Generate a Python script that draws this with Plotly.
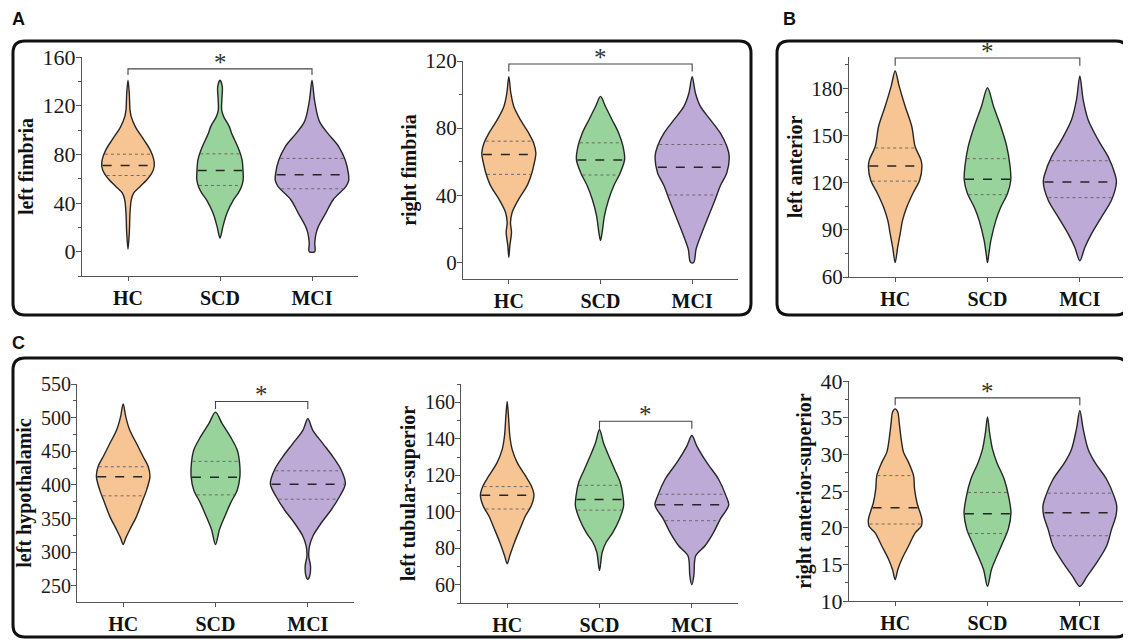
import numpy as np
import plotly.graph_objects as go

groups = ["HC", "SCD", "MCI"]
fills = ["#F7C494", "#98D39B", "#BDAAD6"]

# ---------------- data ----------------
# violin outlines: value levels (top -> bottom) and half-widths (in category units)
left_fimbria_levels = {
    "HC": [141, 130, 116.5, 111, 102.8, 91.9, 83.7, 75.5, 70, 64.6, 59.1, 53.6, 48.1, 42.7, 31.7, 15.3, 2],
    "SCD": [141, 135.7, 124.7, 116.5, 111, 103, 97.4, 84, 75.5, 67, 59, 53.6, 48.1, 42.7, 31.7, 20.8, 11.2],
    "MCI": [141, 124.7, 111, 105.6, 97.4, 86.4, 75.5, 64.6, 59, 53.6, 42.7, 31.7, 20.8, 15.3, 7.1, 0],
}
left_fimbria_widths = {
    "HC": [0, 0.014, 0.022, 0.035, 0.079, 0.173, 0.241, 0.281, 0.285, 0.259, 0.205, 0.133, 0.061, 0.036, 0.022, 0.014, 0],
    "SCD": [0, 0.025, 0.02, 0.018, 0.04, 0.1, 0.126, 0.205, 0.24, 0.25, 0.252, 0.234, 0.198, 0.148, 0.076, 0.032, 0],
    "MCI": [0, 0.027, 0.063, 0.09, 0.17, 0.29, 0.36, 0.395, 0.40, 0.37, 0.23, 0.15, 0.07, 0.045, 0.03, 0.03],
}
left_fimbria_quartiles = {"HC": (62.6, 70.8, 80.1), "SCD": (54.4, 66.7, 80.4), "MCI": (51.7, 63.2, 76.6)}

right_fimbria_levels = {
    "HC": [110.7, 100.8, 92.9, 85, 77.1, 71.2, 65.2, 57.3, 53.4, 45.5, 37.6, 29.7, 23.7, 17.8, 9.9, 3],
    "SCD": [98.9, 92.9, 85, 77.1, 69.2, 61.3, 53.4, 45.5, 37.6, 27.7, 17.8, 12.9],
    "MCI": [110.7, 100.8, 92.9, 85, 77.1, 69.2, 63.3, 53.4, 45.5, 37.6, 27.7, 17.8, 7.9, 0],
}
right_fimbria_widths = {
    "HC": [0, 0.022, 0.054, 0.126, 0.216, 0.27, 0.295, 0.27, 0.252, 0.198, 0.108, 0.036, 0.018, 0.029, 0.011, 0],
    "SCD": [0, 0.054, 0.126, 0.198, 0.245, 0.263, 0.216, 0.144, 0.09, 0.043, 0.018, 0],
    "MCI": [0, 0.036, 0.09, 0.198, 0.306, 0.378, 0.404, 0.378, 0.306, 0.252, 0.18, 0.108, 0.043, 0.018],
}
right_fimbria_quartiles = {"HC": (52.4, 64.3, 72.2), "SCD": (52, 61, 71.2), "MCI": (40.1, 56.7, 70.2)}

left_anterior_levels = {
    "HC": [191.1, 181.5, 168.7, 155.8, 143, 134.4, 130.2, 121.6, 113, 104.5, 96, 87.4, 78.8, 69.2],
    "SCD": [180.4, 168.7, 155.8, 143, 130.2, 121.6, 113, 104.5, 95.9, 83.1, 74.5, 69.2],
    "MCI": [187.9, 172.9, 160.1, 147.3, 136.6, 125.9, 120.5, 108.8, 98.1, 87.4, 78.8, 70.3],
}
left_anterior_widths = {
    "HC": [0, 0.043, 0.108, 0.18, 0.216, 0.28, 0.29, 0.265, 0.19, 0.126, 0.08, 0.054, 0.027, 0],
    "SCD": [0, 0.065, 0.144, 0.209, 0.245, 0.252, 0.216, 0.144, 0.09, 0.036, 0.014, 0],
    "MCI": [0, 0.036, 0.09, 0.198, 0.306, 0.378, 0.396, 0.342, 0.234, 0.126, 0.054, 0],
}
left_anterior_quartiles = {"HC": (121, 130.6, 142.1), "SCD": (112.4, 122.2, 135.3), "MCI": (110.5, 120.5, 134)}

left_hypothalamic_levels = {
    "HC": [520.5, 500.8, 481.2, 461.5, 441.8, 427.1, 412.3, 392.6, 372.9, 353.3, 333.6, 321.3, 311.5],
    "SCD": [508.2, 491, 471.3, 451.6, 432, 412.3, 392.6, 373, 353.3, 333.6, 311.5],
    "MCI": [498.4, 481.2, 461.5, 441.8, 422.1, 401.5, 382.8, 363.1, 343.4, 323.8, 309, 294.2, 279.5, 264.7, 259.8],
}
left_hypothalamic_widths = {
    "HC": [0, 0.029, 0.072, 0.145, 0.217, 0.272, 0.29, 0.254, 0.2, 0.145, 0.072, 0.029, 0],
    "SCD": [0, 0.072, 0.163, 0.236, 0.261, 0.264, 0.236, 0.163, 0.101, 0.043, 0],
    "MCI": [0, 0.054, 0.163, 0.272, 0.362, 0.406, 0.344, 0.254, 0.145, 0.054, 0.018, 0.01, 0.029, 0.02, 0],
}
left_hypothalamic_quartiles = {"HC": (383.8, 412.3, 427), "SCD": (385.2, 411.3, 435), "MCI": (378.8, 401, 421)}

left_tubular_levels = {
    "HC": [160.5, 152.4, 141.5, 134.2, 126.9, 119.6, 114.2, 109.1, 103.3, 97.8, 90.5, 83.3, 76, 71.5],
    "SCD": [145.1, 137.8, 130.5, 123.3, 116, 108.7, 103.3, 96, 88.7, 83.3, 77.8, 67.8],
    "MCI": [141.8, 136, 126.9, 117.8, 108.7, 103.6, 96, 88.7, 81.5, 76, 72.4, 65.1, 60],
}
left_tubular_widths = {
    "HC": [0, 0.014, 0.029, 0.054, 0.109, 0.199, 0.261, 0.29, 0.261, 0.199, 0.138, 0.08, 0.029, 0],
    "SCD": [0, 0.043, 0.101, 0.163, 0.225, 0.254, 0.261, 0.217, 0.145, 0.072, 0.029, 0],
    "MCI": [0, 0.054, 0.163, 0.29, 0.37, 0.399, 0.308, 0.236, 0.145, 0.043, 0.029, 0.022, 0],
}
left_tubular_quartiles = {"HC": (101.5, 109, 113.8), "SCD": (100.9, 106.7, 114.5), "MCI": (95.1, 103.8, 109.6)}

right_antsup_levels = {
    "HC": [36.2, 35.75, 34.4, 32.1, 30.3, 28.9, 27.1, 25.3, 23.4, 21.1, 20.2, 19.3, 17.5, 15.7, 14.3, 12.9],
    "SCD": [35.1, 33, 30.7, 28.9, 26.6, 24.3, 22, 19.8, 17.9, 16.1, 14.3, 12],
    "MCI": [36, 33.5, 30.7, 28.9, 26.6, 24.3, 23, 21.6, 19.8, 17.5, 15.2, 13.4, 12],
}
right_antsup_widths = {
    "HC": [0, 0.029, 0.043, 0.065, 0.09, 0.145, 0.199, 0.21, 0.236, 0.29, 0.283, 0.217, 0.145, 0.072, 0.029, 0],
    "SCD": [0, 0.022, 0.054, 0.101, 0.181, 0.228, 0.254, 0.225, 0.163, 0.101, 0.043, 0],
    "MCI": [0, 0.036, 0.09, 0.163, 0.29, 0.37, 0.399, 0.391, 0.344, 0.29, 0.181, 0.08, 0],
}
right_antsup_quartiles = {"HC": (20.5, 22.7, 27.1), "SCD": (19.2, 21.9, 24.8), "MCI": (18.9, 22.05, 24.7)}

# significance brackets: (group a, group b, bracket level, leg end level)
brackets = [
    ("HC", "MCI", 150.2, 145.2),
    ("HC", "MCI", 118.2, 113.7),
    ("HC", "MCI", 199.4, 194.5),
    ("SCD", "MCI", 524, 513),
    ("SCD", "MCI", 149.6, 145.5),
    ("HC", "MCI", 37.7, 36.7),
]

y_titles = ["left fimbria", "right fimbria", "left anterior",
            "left hypothalamic", "left tubular-superior", "right anterior-superior"]
y_ranges = [[-20, 160], [-10, 120], [60, 200], [226, 550], [50, 170], [10, 40]]
y_tick0 = [0, 0, 60, 250, 60, 10]
y_dtick = [40, 40, 30, 50, 20, 5]
profiles = [
    (left_fimbria_levels, left_fimbria_widths, left_fimbria_quartiles),
    (right_fimbria_levels, right_fimbria_widths, right_fimbria_quartiles),
    (left_anterior_levels, left_anterior_widths, left_anterior_quartiles),
    (left_hypothalamic_levels, left_hypothalamic_widths, left_hypothalamic_quartiles),
    (left_tubular_levels, left_tubular_widths, left_tubular_quartiles),
    (right_antsup_levels, right_antsup_widths, right_antsup_quartiles),
]

# ---------------- layout geometry (page pixels) ----------------
# the page body has an 8px margin, so the figure is drawn 8px in from the corner
OFF = 8
W, H = 1131 - OFF, 640 - OFF
dom_px = [(82, 358, 57, 276), (463, 738, 61, 279), (849, 1126, 57, 277),
          (77, 354, 384, 602), (461, 738, 384, 603), (849, 1126, 381, 601)]
tick_sizes = [22, 21, 21, 20, 20, 22]

def fx(px):
    return (px - OFF) / W

def fy(py):
    return 1 - (py - OFF) / H

SERIF = "Liberation Serif"
AXC = "#555555"

fig = go.Figure()
layout = dict(width=W, height=H, autosize=False, margin=dict(l=0, r=0, t=0, b=0, autoexpand=False),
              paper_bgcolor="white", plot_bgcolor="rgba(0,0,0,0)",
              showlegend=False, annotations=[], shapes=[])

for k in range(6):
    sfx = "" if k == 0 else str(k + 1)
    xa, ya = "x" + sfx, "y" + sfx
    levels, widths, quarts = profiles[k]
    for gi, g in enumerate(groups):
        lv = np.array(levels[g], dtype=float)
        wd = np.array(widths[g], dtype=float)
        xs = list(gi - wd) + list((gi + wd)[::-1])
        ys = list(lv) + list(lv[::-1])
        px_, py_ = [xs[0]], [ys[0]]
        for a, b in zip(xs[1:], ys[1:]):
            if abs(a - px_[-1]) > 1e-9 or abs(b - py_[-1]) > 1e-9:
                px_.append(a)
                py_.append(b)
        fig.add_trace(go.Scatter(x=px_, y=py_, xaxis=xa, yaxis=ya, mode="lines",
                                 fill="toself", fillcolor=fills[gi],
                                 line=dict(color="#262626", width=1.4, shape="spline", smoothing=0.9),
                                 hoverinfo="skip"))
        asc_l, asc_w = lv[::-1], wd[::-1]
        q1, med, q3 = quarts[g]
        for q, style in ((q1, "dot"), (q3, "dot"), (med, "dash")):
            hw = float(np.interp(q, asc_l, asc_w)) * 0.97
            if style == "dash":
                ln = dict(color="#262626", width=1.5, dash="dash")
            else:
                ln = dict(color="#6a6a6a", width=1, dash="dot")
            fig.add_trace(go.Scatter(x=[gi - hw, gi + hw], y=[q, q], xaxis=xa, yaxis=ya,
                                     mode="lines", line=ln, hoverinfo="skip"))
    ga, gb, top, leg = brackets[k]
    ia, ib = groups.index(ga), groups.index(gb)
    fig.add_trace(go.Scatter(x=[ia, ia, ib, ib], y=[leg, top, top, leg], xaxis=xa, yaxis=ya,
                             mode="lines", line=dict(color="#444444", width=1.1),
                             hoverinfo="skip", cliponaxis=False))
    layout["annotations"].append(dict(x=(ia + ib) / 2, y=top, xref=xa, yref=ya, text="*",
                                      showarrow=False, yanchor="bottom", yshift=-9,
                                      font=dict(family=SERIF, size=25, color="#333333")))
    x0, x1, y0, y1 = dom_px[k]
    layout["xaxis" + sfx] = dict(
        domain=[fx(x0), fx(x1)], range=[-0.5, 2.5], anchor=ya,
        tickvals=[0, 1, 2], ticktext=groups, showline=True, linecolor=AXC, linewidth=1.2,
        ticks="outside", ticklen=4, tickcolor=AXC, tickwidth=1.2,
        tickfont=dict(family=SERIF, size=20, color="#111", weight="bold"),
        showgrid=False, zeroline=False, fixedrange=True, automargin=False)
    layout["yaxis" + sfx] = dict(
        domain=[fy(y1), fy(y0)], range=y_ranges[k], anchor=xa,
        tick0=y_tick0[k], dtick=y_dtick[k], showline=True, linecolor=AXC, linewidth=1.2,
        ticks="outside", ticklen=5, tickcolor=AXC, tickwidth=1.2, ticklabelstandoff=-4,
        minor=dict(dtick=y_dtick[k] / 2, tick0=y_tick0[k], ticks="outside", ticklen=3,
                   tickcolor=AXC, tickwidth=1, showgrid=False),
        tickfont=dict(family=SERIF, size=tick_sizes[k], color="#1a1a1a"),
        title=dict(text=y_titles[k], standoff=3,
                   font=dict(family=SERIF, size=20, color="#111", weight="bold")),
        showgrid=False, zeroline=False, fixedrange=True, automargin=False)

def rounded(x0, y0, x1, y1, r):
    X = lambda v: f"{fx(v):.5f}"
    Y = lambda v: f"{fy(v):.5f}"
    return (f"M {X(x0 + r)} {Y(y0)} L {X(x1 - r)} {Y(y0)} Q {X(x1)} {Y(y0)} {X(x1)} {Y(y0 + r)} "
            f"L {X(x1)} {Y(y1 - r)} Q {X(x1)} {Y(y1)} {X(x1 - r)} {Y(y1)} "
            f"L {X(x0 + r)} {Y(y1)} Q {X(x0)} {Y(y1)} {X(x0)} {Y(y1 - r)} "
            f"L {X(x0)} {Y(y0 + r)} Q {X(x0)} {Y(y0)} {X(x0 + r)} {Y(y0)} Z")

for (a, b, c, d) in [(13, 41, 751, 315), (777, 41, 1128, 315), (13, 358, 1128, 637)]:
    layout["shapes"].append(dict(type="path", path=rounded(a, b, c, d, 12), xref="paper", yref="paper",
                                 line=dict(color="#111", width=3), layer="above"))

# panel letters (top-anchored so the text box stays inside the figure)
for lbl, px, ptop in (("A", 18, 8), ("B", 789, 8), ("C", 18, 332)):
    layout["annotations"].append(dict(x=fx(px), y=fy(ptop), xref="paper", yref="paper", text=lbl,
                                      showarrow=False, xanchor="center", yanchor="top",
                                      borderpad=0,
                                      font=dict(family="Liberation Sans", size=18, color="#111",
                                                weight="bold")))

fig.update_layout(**layout)
fig.write_html("out.html", config={"responsive": False})
